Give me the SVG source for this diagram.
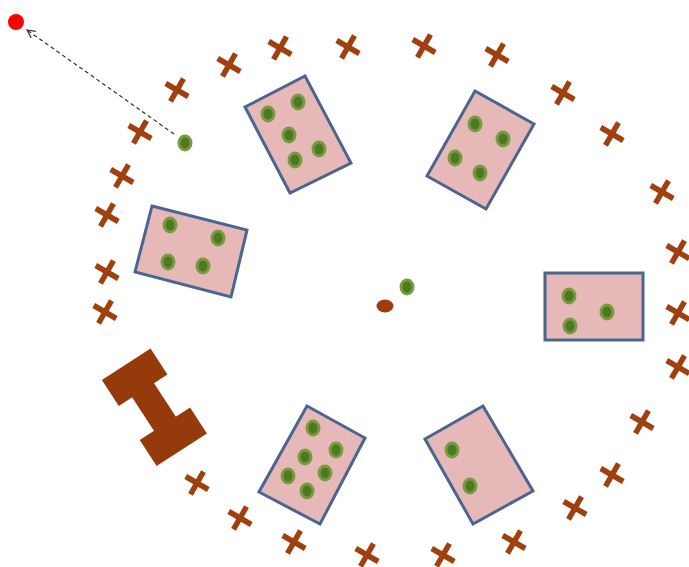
<svg xmlns="http://www.w3.org/2000/svg" width="689" height="567" viewBox="0 0 689 567">
<style>
.box{fill:#E6B9B8;stroke:#4A6690;stroke-width:3;stroke-linejoin:miter}
.do{fill:#7A9A40}
.di{fill:#4C7A22}
.bone{fill:#953A0B}
</style>
<defs>
<g id="dot"><ellipse class="do" cx="0" cy="0" rx="7.5" ry="8.5"/><ellipse class="di" cx="0" cy="0" rx="4.5" ry="5.5"/></g>
<g id="x" stroke="#A0400F" stroke-width="5.5" fill="none"><g transform="rotate(30)"><line x1="-13" y1="0" x2="13" y2="0"/><line x1="0" y1="-13" x2="0" y2="13"/></g></g>
<marker id="ah" viewBox="0 0 10 10" refX="9" refY="5" markerWidth="10" markerHeight="10" markerUnits="userSpaceOnUse" orient="auto"><path d="M1,1 L9,5 L1,9" fill="none" stroke="#333" stroke-width="1.2"/></marker>
</defs>
<rect width="689" height="567" fill="#fff"/>

<g id="ring">
<use href="#x" x="177" y="90"/>
<use href="#x" x="229" y="65"/>
<use href="#x" x="280" y="48"/>
<use href="#x" x="348" y="47"/>
<use href="#x" x="424" y="46"/>
<use href="#x" x="497" y="55"/>
<use href="#x" x="563" y="93"/>
<use href="#x" x="612" y="134"/>
<use href="#x" x="662" y="192"/>
<use href="#x" x="678" y="252"/>
<use href="#x" x="678" y="313"/>
<use href="#x" x="678" y="367"/>
<use href="#x" x="642" y="422"/>
<use href="#x" x="612" y="475"/>
<use href="#x" x="575" y="508"/>
<use href="#x" x="514" y="542"/>
<use href="#x" x="443" y="555"/>
<use href="#x" x="367" y="555"/>
<use href="#x" x="294" y="542"/>
<use href="#x" x="240" y="518"/>
<use href="#x" x="197" y="483"/>
<use href="#x" x="105" y="312"/>
<use href="#x" x="107" y="272"/>
<use href="#x" x="107" y="215"/>
<use href="#x" x="122" y="176"/>
<use href="#x" x="140" y="132"/>
</g>

<g id="box1">
<polygon class="box" points="245,107 305,76 351,163 290,193"/>
<use href="#dot" x="268" y="114"/><use href="#dot" x="298" y="102"/><use href="#dot" x="289" y="135"/><use href="#dot" x="319" y="149"/><use href="#dot" x="295" y="160"/>
</g>
<g id="box2">
<polygon class="box" points="427,176 475,91 534,124 486,209"/>
<use href="#dot" x="475" y="124"/><use href="#dot" x="503" y="139"/><use href="#dot" x="455" y="158"/><use href="#dot" x="480" y="173"/>
</g>
<g id="box3">
<polygon class="box" points="152,206 247,230 231,297 135,272"/>
<use href="#dot" x="170" y="225"/><use href="#dot" x="218" y="238"/><use href="#dot" x="168" y="262"/><use href="#dot" x="203" y="266"/>
</g>
<g id="box4">
<rect class="box" x="545" y="273" width="98" height="67"/>
<use href="#dot" x="569" y="296"/><use href="#dot" x="570" y="326"/><use href="#dot" x="607" y="312"/>
</g>
<g id="box5">
<polygon class="box" points="307,406 365,438 320,524 259,492"/>
<use href="#dot" x="313" y="428"/><use href="#dot" x="336" y="450"/><use href="#dot" x="305" y="457"/><use href="#dot" x="325" y="473"/><use href="#dot" x="288" y="476"/><use href="#dot" x="307" y="491"/>
</g>
<g id="box6">
<polygon class="box" points="425,439 483,406 533,491 473,524"/>
<use href="#dot" x="452" y="450"/><use href="#dot" x="470" y="486"/>
</g>

<g id="bone" class="bone" transform="translate(154,407) rotate(-33)">
<rect x="-29" y="-51" width="58" height="31"/>
<rect x="-13" y="-22" width="26" height="44"/>
<rect x="-30" y="20" width="60" height="31"/>
</g>

<g id="center">
<ellipse cx="385" cy="306" rx="8.5" ry="6.5" fill="#A33A0A"/>
<use href="#dot" x="407" y="287"/>
</g>
<g id="mover"><use href="#dot" x="185" y="143"/></g>
<g id="target"><circle cx="16" cy="22" r="8" fill="#FF0000"/></g>

<g id="connectors">
<line x1="174" y1="134" x2="27" y2="30" stroke="#333" stroke-width="1.2" stroke-dasharray="4,3" marker-end="url(#ah)"/>
</g>
</svg>
